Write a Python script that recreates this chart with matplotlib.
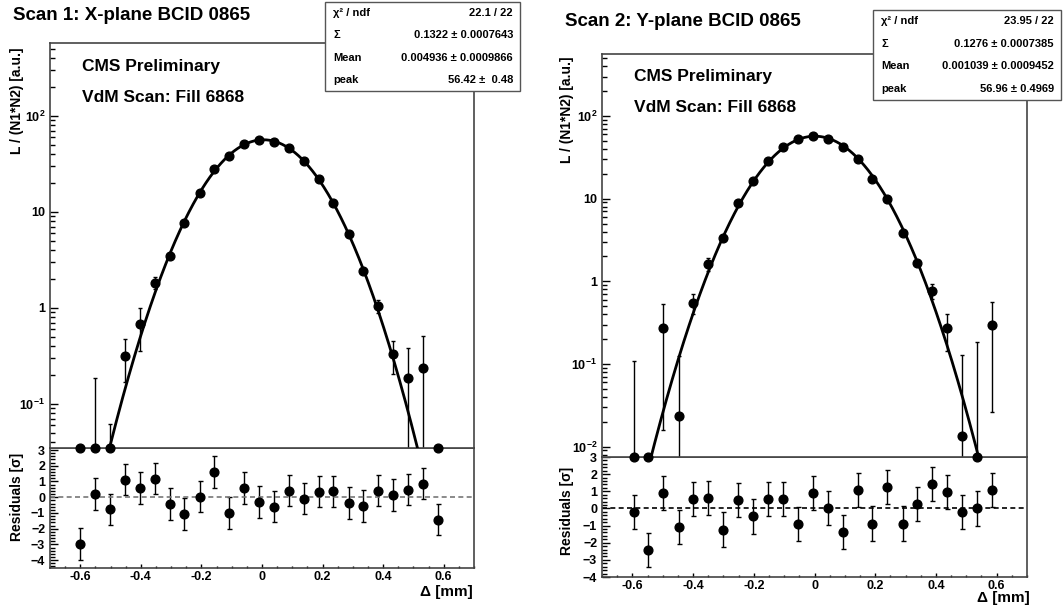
import matplotlib
matplotlib.use("Agg")
import matplotlib.pyplot as plt
import numpy as np
from matplotlib.patches import Rectangle
from matplotlib.ticker import FixedLocator, FixedFormatter, MultipleLocator, NullFormatter

plt.rcParams['font.family'] = ['Liberation Sans', 'DejaVu Sans']
plt.rcParams['font.weight'] = 'bold'
plt.rcParams['mathtext.fontset'] = 'custom'
plt.rcParams['mathtext.rm'] = 'Liberation Sans:bold'
plt.rcParams['mathtext.bf'] = 'Liberation Sans:bold'
plt.rcParams['mathtext.it'] = 'Liberation Sans:bold:italic'

# ---- scan 1 (X-plane) ----
x1 = [-0.600, -0.551, -0.502, -0.452, -0.403, -0.354, -0.305, -0.256, -0.206, -0.157, -0.108, -0.059, -0.010,
      0.040, 0.089, 0.138, 0.187, 0.236, 0.286, 0.335, 0.384, 0.433, 0.482, 0.532, 0.581]
y1 = [-0.02, 0.005, 0.003, 0.319, 0.678, 1.83, 3.5, 7.7, 15.7, 27.8, 38.3, 50.7, 56.2,
      54.0, 46.4, 34.0, 21.9, 12.5, 5.9, 2.44, 1.05, 0.33, 0.185, 0.239, -0.01]
e1 = [0.01, 0.182, 0.058, 0.15, 0.32, 0.25, 0.1, 0.15, 0.25, 0.4, 0.5, 0.6, 0.6,
      0.6, 0.55, 0.45, 0.3, 0.2, 0.12, 0.1, 0.17, 0.125, 0.2, 0.27, 0.01]
res1 = [-2.97, 0.2, -0.77, 1.12, 0.59, 1.19, -0.44, -1.08, 0.04, 1.6, -0.99, 0.59, -0.29,
        -0.59, 0.42, -0.09, 0.35, 0.37, -0.37, -0.57, 0.42, 0.13, 0.48, 0.86, -1.43]
fit1 = {'peak': 56.42, 'sigma': 0.1322, 'mean': 0.004936}
stats1 = [("\u03c7\u00b2 / ndf", "22.1 / 22"),
          ("\u03a3", "0.1322 \u00b1 0.0007643"),
          ("Mean", "0.004936 \u00b1 0.0009866"),
          ("peak", "56.42 \u00b1  0.48")]

# ---- scan 2 (Y-plane) ----
x2 = [-0.596, -0.547, -0.498, -0.448, -0.399, -0.350, -0.301, -0.251, -0.202, -0.153, -0.104, -0.055, -0.006,
      0.044, 0.093, 0.142, 0.191, 0.240, 0.290, 0.339, 0.388, 0.437, 0.486, 0.536, 0.585]
y2 = [0.002, 0.001, 0.272, 0.0233, 0.552, 1.64, 3.37, 8.79, 16.5, 28.8, 42.6, 52.2, 57.8,
      53.2, 42.2, 30.5, 17.1, 9.8, 3.81, 1.65, 0.771, 0.272, 0.0135, 0.002, 0.296]
e2 = [0.108, 0.002, 0.256, 0.1, 0.155, 0.29, 0.15, 0.25, 0.35, 0.45, 0.55, 0.6, 0.6,
      0.6, 0.55, 0.45, 0.35, 0.25, 0.15, 0.1, 0.165, 0.13, 0.115, 0.184, 0.27]
res2 = [-0.21, -2.44, 0.92, -1.09, 0.57, 0.6, -1.23, 0.51, -0.47, 0.57, 0.57, -0.9, 0.92,
        0.04, -1.39, 1.09, -0.88, 1.23, -0.88, 0.27, 1.42, 0.94, -0.2, 0.0, 1.09]
fit2 = {'peak': 56.96, 'sigma': 0.1276, 'mean': 0.001039}
stats2 = [("\u03c7\u00b2 / ndf", "23.95 / 22"),
          ("\u03a3", "0.1276 \u00b1 0.0007385"),
          ("Mean", "0.001039 \u00b1 0.0009452"),
          ("peak", "56.96 \u00b1 0.4969")]

W, H = 1063, 608
fig = plt.figure(figsize=(W / 100, H / 100), dpi=100)
FRAME = '#444444'


def px_box(l, t, r, b):
    return [l / W, 1 - b / H, (r - l) / W, (b - t) / H]


def style_axes(ax):
    for s in ax.spines.values():
        s.set_color(FRAME)
        s.set_linewidth(1.2)
    ax.tick_params(which='both', direction='in', colors='black', labelsize=9)


def draw_panel(frame, x, y, e, res, fit, stats, title, ylim_main, ylim_res, dash_col, text_pos, box, ylab_pos, rlab_pos, dlab_pos):
    l, t, r, mid, b = frame
    axr = fig.add_axes(px_box(l, mid, r, b))
    ax = fig.add_axes(px_box(l, t, r, mid))
    style_axes(ax)
    style_axes(axr)

    # main panel
    ax.set_yscale('log')
    ax.set_xlim(-0.7, 0.7)
    ax.set_ylim(*ylim_main)
    x = np.array(x)
    y = np.array(y)
    e = np.array(e)
    ymin = ylim_main[0]
    yplot = np.maximum(y, ymin * 1.001)
    lo_end = np.maximum(y - e, 1e-6)
    hi_end = y + e
    lo = np.clip(yplot - lo_end, 0, None)
    hi = np.clip(hi_end - yplot, 0, None)
    ax.errorbar(x, yplot, yerr=[lo, hi], fmt='none', ecolor='black', elinewidth=1.0, capsize=1.6, capthick=1.0)
    ax.plot(x, yplot, 'o', color='black', markersize=6.3, clip_on=False, zorder=4)
    xs = np.linspace(-0.7, 0.7, 800)
    ax.plot(xs, fit['peak'] * np.exp(-0.5 * ((xs - fit['mean']) / fit['sigma']) ** 2), color='black', lw=2.0, zorder=3)

    decades = [10.0 ** k for k in range(-3, 4)]
    labels = {1e-2: r'$10^{-2}$', 1e-1: r'$10^{-1}$', 1.0: '1', 10.0: '10', 100.0: r'$10^{2}$'}
    ax.yaxis.set_major_locator(FixedLocator(decades))
    ax.yaxis.set_major_formatter(FixedFormatter([labels.get(d, '') for d in decades]))
    minors = [m * d for d in decades for m in range(2, 10)]
    ax.yaxis.set_minor_locator(FixedLocator(minors))
    ax.yaxis.set_minor_formatter(NullFormatter())
    ax.tick_params(axis='y', which='major', length=6, width=1)
    ax.tick_params(axis='y', which='minor', length=3.5, width=1)
    ax.tick_params(axis='x', which='both', bottom=False, labelbottom=False)

    # residual panel
    axr.set_xlim(-0.7, 0.7)
    axr.set_ylim(*ylim_res)
    axr.errorbar(x, res, yerr=1.0, fmt='o', color='black', markersize=6.3, ecolor='black', elinewidth=1.0, capsize=1.8, capthick=1.0)
    axr.axhline(0, color=dash_col, lw=1.2, dashes=(3, 2))
    axr.yaxis.set_major_locator(MultipleLocator(1))
    axr.yaxis.set_minor_locator(MultipleLocator(0.2))
    axr.xaxis.set_major_locator(MultipleLocator(0.2))
    axr.xaxis.set_minor_locator(MultipleLocator(0.05))
    axr.xaxis.set_major_formatter(matplotlib.ticker.FuncFormatter(lambda v, p: '%g' % round(v, 2)))
    axr.tick_params(axis='y', which='major', length=6, width=1)
    axr.tick_params(axis='y', which='minor', length=3.5, width=1)
    axr.tick_params(axis='x', which='major', length=3, width=1, pad=2)
    axr.tick_params(axis='x', which='minor', length=1.5, width=1)

    # titles and labels
    fig.text(title[1] / W, 1 - title[2] / H, title[0], fontsize=13.5, fontweight='bold', ha='left', va='center')
    fig.text(text_pos[0] / W, 1 - text_pos[1] / H, "CMS Preliminary", fontsize=12.5, fontweight='bold', ha='left', va='center')
    fig.text(text_pos[0] / W, 1 - text_pos[2] / H, "VdM Scan: Fill 6868", fontsize=12.5, fontweight='bold', ha='left', va='center')
    fig.text(ylab_pos[0] / W, 1 - ylab_pos[1] / H, "L / (N1*N2) [a.u.]", fontsize=10, fontweight='bold', rotation=90, ha='center', va='center')
    fig.text(rlab_pos[0] / W, 1 - rlab_pos[1] / H, "Residuals [\u03c3]", fontsize=10, fontweight='bold', rotation=90, ha='center', va='center')
    fig.text(dlab_pos[0] / W, 1 - dlab_pos[1] / H, "\u0394 [mm]", fontsize=11, fontweight='bold', ha='right', va='center')

    # stat box
    bl, bt, br, bb = box
    rect = Rectangle((bl / W, 1 - bb / H), (br - bl) / W, (bb - bt) / H, transform=fig.transFigure,
                     facecolor='white', edgecolor='#555555', lw=1.0, zorder=10)
    fig.add_artist(rect)
    nrow = len(stats)
    rowh = (bb - bt) / nrow
    for i, (k, v) in enumerate(stats):
        yc = bt + rowh * (i + 0.5)
        fig.text((bl + 8) / W, 1 - yc / H, k, fontsize=8, fontweight='bold', ha='left', va='center', zorder=11)
        fig.text((br - 7) / W, 1 - yc / H, v, fontsize=8, fontweight='bold', ha='right', va='center', zorder=11)
    return ax, axr


draw_panel((50, 43, 474, 448, 568), x1, y1, e1, res1, fit1, stats1,
           ("Scan 1: X-plane BCID 0865", 13, 16), (0.0347, 575), (-4.5, 3.13), '#777777',
           (82, 67, 97), (325, 2, 520, 91), (17, 101), (17, 497), (473, 592))
draw_panel((602, 54, 1027, 457, 577), x2, y2, e2, res2, fit2, stats2,
           ("Scan 2: Y-plane BCID 0865", 565, 21), (0.0075, 562), (-4.0, 3.0), 'black',
           (634, 76, 107), (873, 10, 1061, 100), (567, 110), (567, 511), (1030, 598))

fig.savefig('out.png', dpi=100, facecolor='white')
